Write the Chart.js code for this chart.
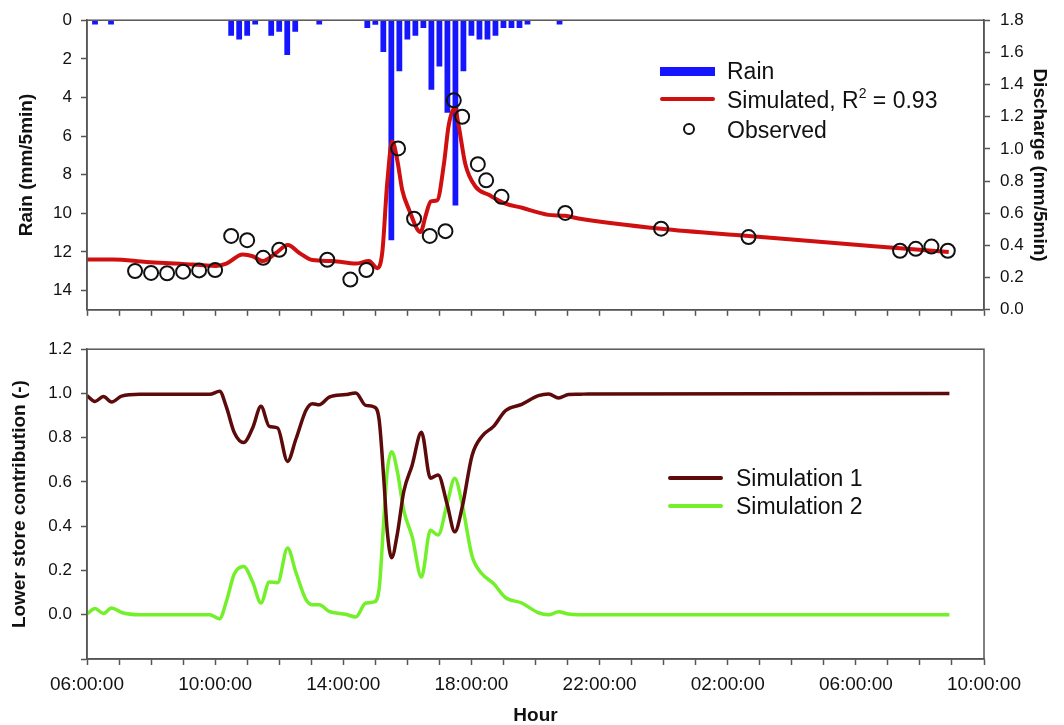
<!DOCTYPE html>
<html>
<head>
<meta charset="utf-8">
<title>Rain, discharge and lower store contribution</title>
<script src="https://cdn.jsdelivr.net/npm/chart.js@4.4.1/dist/chart.umd.min.js"></script>
<style>
  body { margin: 0; background: #fff; font-family: "Liberation Sans", Arial, sans-serif; color: #111; }
  #page { position: relative; width: 1064px; height: 725px; overflow: hidden; }
  .box { position: absolute; left: 0; width: 1064px; }
  .leg { position: absolute; font-size: 23px; height: 26px; line-height: 26px; white-space: nowrap; }
  .leg sup { font-size: 14px; line-height: 0; vertical-align: 10px; }
  .sw { position: absolute; }
</style>
</head>
<body>
<div id="page">
  <div class="box" style="top:0;height:330px"><canvas id="topChart"></canvas></div>
  <div class="box" style="top:330px;height:395px"><canvas id="lowChart"></canvas></div>

  <!-- legend, upper panel -->
  <div class="sw" style="left:660px;top:67px;width:55px;height:9px;background:#1515ff"></div>
  <div class="leg" style="left:727px;top:58px">Rain</div>
  <div class="sw" style="left:660px;top:97px;width:55px;height:4px;background:#d01010;border-radius:2px"></div>
  <div class="leg" style="left:727px;top:87px">Simulated, R<sup>2</sup> = 0.93</div>
  <div class="sw" style="left:683px;top:123px;width:8px;height:8px;border:2px solid #111;border-radius:50%"></div>
  <div class="leg" style="left:727px;top:117px">Observed</div>

  <!-- legend, lower panel -->
  <div class="sw" style="left:668px;top:476px;width:55px;height:4px;background:#5c0a0a;border-radius:2px"></div>
  <div class="leg" style="left:736px;top:465px">Simulation 1</div>
  <div class="sw" style="left:668px;top:504px;width:55px;height:4px;background:#72f02a;border-radius:2px"></div>
  <div class="leg" style="left:736px;top:493px">Simulation 2</div>
</div>

<script>
Chart.defaults.font.family = "'Liberation Sans', Arial, sans-serif";
Chart.defaults.color = '#111';

// time axis, hours since midnight of day 1
const xStart = 6, xEnd = 34;
const hourTicks = [6, 7, 8, 9, 10, 11, 12, 13, 14, 15, 16, 17, 18, 19, 20, 21, 22, 23, 24, 25, 26, 27, 28, 29, 30, 31, 32, 33, 34];
const xLabelHours = [6, 10, 14, 18, 22, 26, 30, 34];

// rain, 15 min bars (mm/5min)
const rainHours = [6.25, 6.75, 10.5, 10.75, 11.0, 11.25, 11.75, 12.0, 12.25, 12.5, 13.25,
  14.75, 15.0, 15.25, 15.5, 15.75, 16.0, 16.25, 16.5, 16.75, 17.0, 17.25, 17.5, 17.75,
  18.0, 18.25, 18.5, 18.75, 19.0, 19.25, 19.5, 19.75, 20.75];
const rainMm = [0.22, 0.22, 0.8, 1.0, 0.8, 0.22, 0.8, 0.6, 1.8, 0.6, 0.22,
  0.4, 0.24, 1.65, 11.4, 2.65, 1.0, 0.8, 0.4, 3.6, 2.4, 4.8, 9.6, 2.65,
  0.8, 1.0, 1.0, 0.8, 0.4, 0.4, 0.4, 0.22, 0.22];

// simulated discharge (mm/5min)
const simHours = [6.0, 6.82, 7.86, 8.9, 10.03, 10.35, 10.86, 11.17, 11.49, 11.9, 12.27, 12.63,
  13.04, 13.66, 14.39, 14.8, 15.06, 15.22, 15.37, 15.53, 15.69, 15.84, 16.05, 16.41, 16.57,
  16.73, 16.93, 17.14, 17.29, 17.48, 17.6, 17.81, 18.13, 18.54, 19.06, 19.58, 20.1, 20.4,
  20.93, 21.34, 23.92, 26.65, 29.43, 31.38, 32.9];
const simQ = [0.313, 0.313, 0.297, 0.287, 0.273, 0.287, 0.343, 0.333, 0.303, 0.353, 0.403, 0.353,
  0.309, 0.303, 0.287, 0.303, 0.259, 0.363, 0.785, 1.046, 0.925, 0.745, 0.624, 0.483, 0.584,
  0.674, 0.68, 0.905, 1.146, 1.256, 1.146, 0.905, 0.765, 0.715, 0.66, 0.634, 0.604, 0.59,
  0.584, 0.568, 0.504, 0.459, 0.413, 0.383, 0.359];

// observed discharge (mm/5min)
const obsHours = [7.5, 8.0, 8.5, 9.0, 9.5, 10.0, 10.5, 11.0, 11.5, 12.0, 13.5, 14.22, 14.72,
  15.71, 16.21, 16.7, 17.19, 17.45, 17.71, 18.2, 18.46, 18.94, 20.93, 23.92, 26.65,
  31.38, 31.87, 32.36, 32.87];
const obsQ = [0.241, 0.229, 0.227, 0.237, 0.245, 0.247, 0.459, 0.433, 0.323, 0.373, 0.311, 0.188, 0.247,
  1.003, 0.566, 0.459, 0.489, 1.302, 1.2, 0.905, 0.805, 0.702, 0.602, 0.504, 0.452,
  0.367, 0.379, 0.393, 0.367];

// lower store contribution (-)
const lscHours = [6.0, 6.25, 6.51, 6.77, 7.08, 7.65, 9.83, 10.14, 10.35, 10.6, 10.89, 11.17, 11.43,
  11.69, 11.95, 12.26, 12.52, 12.84, 13.04, 13.25, 13.56, 14.08, 14.39, 14.7, 14.96, 15.12,
  15.27, 15.37, 15.51, 15.69, 15.89, 16.15, 16.44, 16.72, 16.96, 17.24, 17.48, 17.71, 18.02,
  18.33, 18.69, 19.06, 19.57, 20.09, 20.41, 20.72, 21.03, 21.34, 21.65, 32.92];
const sim1 = [0.99, 0.964, 0.986, 0.961, 0.988, 0.996, 0.996, 1.01, 0.939, 0.822, 0.778, 0.844, 0.942,
  0.851, 0.844, 0.693, 0.793, 0.925, 0.954, 0.949, 0.983, 0.995, 1.002, 0.946, 0.939, 0.88,
  0.602, 0.382, 0.258, 0.368, 0.558, 0.676, 0.825, 0.617, 0.632, 0.5, 0.375, 0.485, 0.72,
  0.807, 0.851, 0.922, 0.951, 0.99, 0.998, 0.98, 0.995, 0.996, 0.998, 1.0];
const sim2 = [0.004, 0.028, 0.006, 0.031, 0.01, 0.0, 0.0, -0.018, 0.06, 0.185, 0.218, 0.148, 0.053,
  0.148, 0.145, 0.302, 0.192, 0.067, 0.045, 0.045, 0.015, 0.002, -0.01, 0.053, 0.058, 0.119,
  0.44, 0.646, 0.737, 0.646, 0.47, 0.353, 0.17, 0.382, 0.36, 0.5, 0.617, 0.5, 0.265,
  0.185, 0.141, 0.078, 0.053, 0.009, 0.0, 0.013, 0.003, 0.0, 0.0, 0.0];

const rainTicks = [0, 2, 4, 6, 8, 10, 12, 14];
const flowTicks = [0, 0.2, 0.4, 0.6, 0.8, 1.0, 1.2, 1.4, 1.6, 1.8];
const lscTicks = [-0.2, 0, 0.2, 0.4, 0.6, 0.8, 1.0, 1.2];

const axisColor = '#555';

function pts(xs, ys) {
  return xs.map((x, i) => ({ x: x, y: ys[i] }));
}

function fmtHour(v) {
  return String(v % 24).padStart(2, '0') + ':00:00';
}

// draws the box round the plot area
const frame = {
  id: 'frame',
  afterDraw(chart) {
    const a = chart.chartArea, ctx = chart.ctx;
    ctx.save();
    ctx.strokeStyle = axisColor;
    ctx.lineWidth = 1.5;
    ctx.strokeRect(a.left, a.top, a.right - a.left, a.bottom - a.top);
    ctx.restore();
  }
};

function xAxis(labels, h) {
  return {
    type: 'linear', min: xStart, max: xEnd, offset: false,
    afterBuildTicks: s => { s.ticks = hourTicks.map(v => ({ value: v })); },
    afterFit: s => { s.height = h; },
    ticks: {
      display: labels, autoSkip: false, maxRotation: 0, padding: 8,
      font: { size: 19 },
      callback: v => (xLabelHours.includes(v) ? fmtHour(v) : '')
    },
    grid: { drawOnChartArea: false, offset: false, tickLength: 6, color: axisColor, tickWidth: 1.5 },
    border: { color: axisColor, width: 1.5 },
    title: {
      display: labels, text: 'Hour', padding: { top: 0, bottom: 0 },
      font: { size: 19, weight: 'bold', lineHeight: 1 }
    }
  };
}

function yGrid() {
  return { drawOnChartArea: false, tickLength: 6, color: axisColor, tickWidth: 1.5 };
}

new Chart(document.getElementById('topChart'), {
  type: 'line',
  data: {
    datasets: [
      {
        type: 'bar', label: 'Rain', data: pts(rainHours, rainMm), yAxisID: 'yRain',
        backgroundColor: '#1515ff', borderWidth: 0, order: 3
      },
      {
        label: 'Simulated', data: pts(simHours, simQ), yAxisID: 'yQ',
        borderColor: '#d01010', borderWidth: 4, pointRadius: 0,
        cubicInterpolationMode: 'monotone', order: 2
      },
      {
        label: 'Observed', data: pts(obsHours, obsQ), yAxisID: 'yQ', showLine: false,
        pointRadius: 7, pointBorderWidth: 2, pointBorderColor: '#111',
        pointBackgroundColor: 'rgba(0,0,0,0)', order: 1
      }
    ]
  },
  options: {
    responsive: true, maintainAspectRatio: false, animation: false,
    layout: { padding: { top: 18, left: 0, right: 0, bottom: 0 } },
    plugins: { legend: { display: false }, tooltip: { enabled: false } },
    scales: {
      x: xAxis(false, 13),
      yRain: {
        position: 'left', reverse: true, min: 0, max: 15,
        afterBuildTicks: s => { s.ticks = rainTicks.map(v => ({ value: v })); },
        afterFit: s => { s.width = 87; },
        ticks: { padding: 9, font: { size: 17 } },
        grid: yGrid(),
        border: { color: axisColor, width: 1.5 },
        title: { display: true, text: 'Rain (mm/5min)', padding: { top: 15 }, font: { size: 19, weight: 'bold' } }
      },
      yQ: {
        position: 'right', min: 0, max: 1.8,
        afterBuildTicks: s => { s.ticks = flowTicks.map(v => ({ value: v })); },
        afterFit: s => { s.width = 80; },
        ticks: { padding: 10, font: { size: 17 }, callback: v => v.toFixed(1) },
        grid: yGrid(),
        border: { color: axisColor, width: 1.5 },
        title: { display: true, text: 'Discharge (mm/5min)', padding: { top: 13 }, font: { size: 19, weight: 'bold' } }
      }
    }
  },
  plugins: [frame]
});

new Chart(document.getElementById('lowChart'), {
  type: 'line',
  data: {
    datasets: [
      {
        label: 'Simulation 1', data: pts(lscHours, sim1),
        borderColor: '#5c0a0a', borderWidth: 3.5, pointRadius: 0,
        cubicInterpolationMode: 'monotone'
      },
      {
        label: 'Simulation 2', data: pts(lscHours, sim2),
        borderColor: '#72f02a', borderWidth: 3.5, pointRadius: 0,
        cubicInterpolationMode: 'monotone'
      }
    ]
  },
  options: {
    responsive: true, maintainAspectRatio: false, animation: false,
    layout: { padding: { top: 14, left: 0, right: 80, bottom: 0 } },
    plugins: { legend: { display: false }, tooltip: { enabled: false } },
    scales: {
      x: xAxis(true, 66),
      y: {
        position: 'left', min: -0.2, max: 1.2,
        afterBuildTicks: s => { s.ticks = lscTicks.map(v => ({ value: v })); },
        afterFit: s => { s.width = 87; },
        ticks: { padding: 9, font: { size: 17 }, callback: v => (v < -0.1 ? '' : v.toFixed(1)) },
        grid: yGrid(),
        border: { color: axisColor, width: 1.5 },
        title: { display: true, text: 'Lower store contribution (-)', padding: { top: 8 }, font: { size: 19, weight: 'bold' } }
      }
    }
  },
  plugins: [frame]
});
</script>
</body>
</html>
